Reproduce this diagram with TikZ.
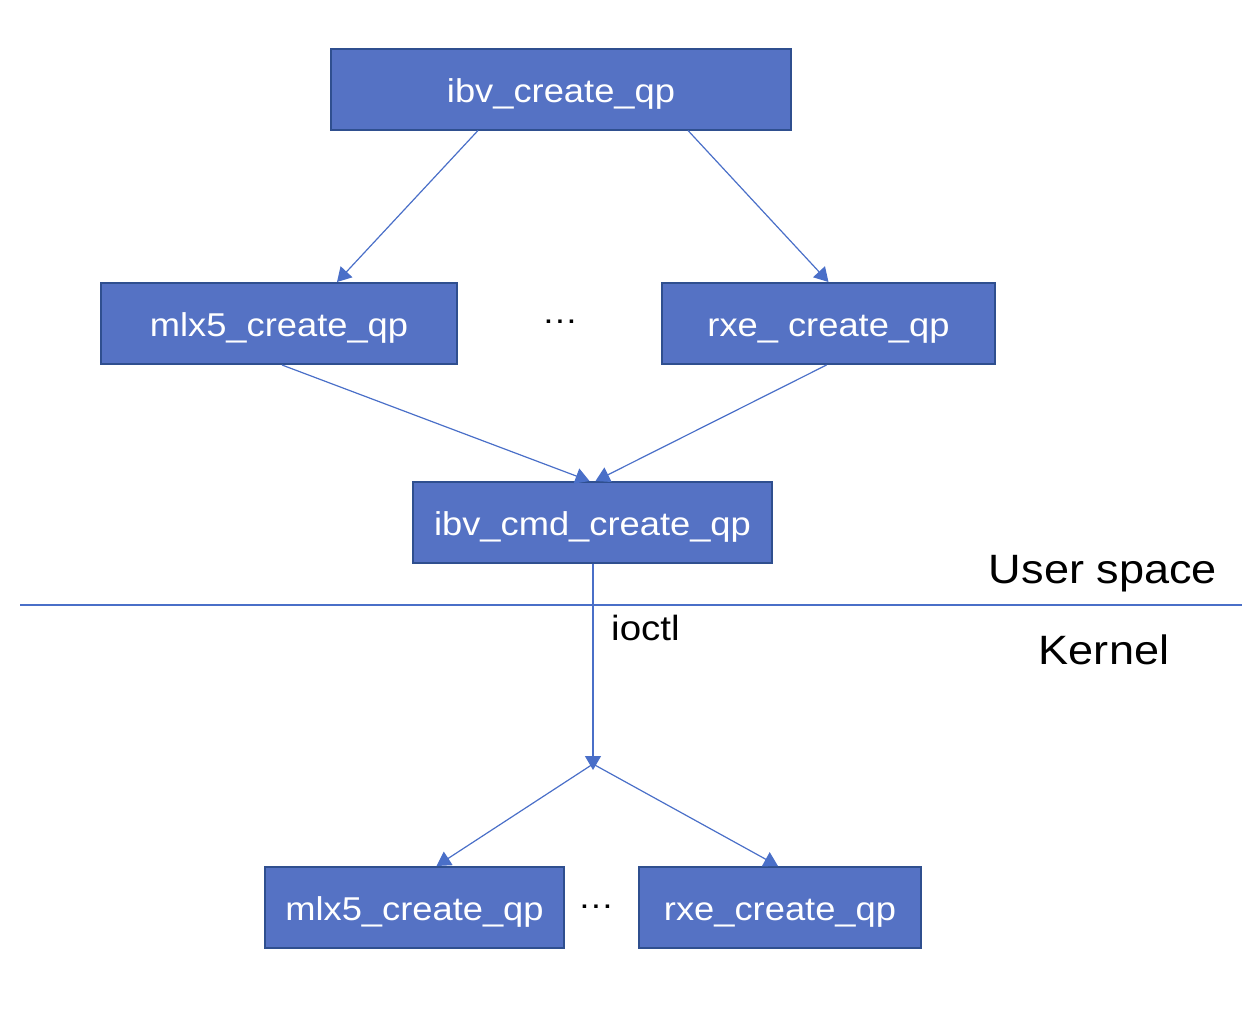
\documentclass[tikz,border=0pt]{standalone}
\usepackage{fontspec}
\setmainfont[FakeStretch=1.1]{Liberation Sans}
\usetikzlibrary{arrows.meta}
\definecolor{boxfill}{HTML}{5572C4}
\definecolor{boxline}{HTML}{2F4F8F}
\definecolor{linec}{HTML}{4A6FC8}
\tikzset{
  box/.style={draw=boxline, line width=2pt, fill=boxfill, text=white, inner sep=0pt,
    minimum height=81pt, text height=29pt, text depth=3pt, font=\fontsize{33}{40}\selectfont},
  arr/.style={draw=linec, line width=1.2pt, -{Triangle[width=16pt,length=14pt]}},
  conn/.style={draw=linec, line width=1.2pt},
  lbl/.style={inner sep=0pt, text=black},
}
\begin{document}
\begin{tikzpicture}[x=1pt,y=-1pt]
\useasboundingbox (0,0) rectangle (1255,1034);
\node[box, minimum width=460pt] (top) at (561,89) {ibv\_create\_qp};
\node[box, minimum width=356pt] (m1) at (279,323.5) {mlx5\_create\_qp};
\node[box, minimum width=333pt] (r1) at (828.5,323.5) {rxe\_ create\_qp};
\node[lbl, font=\fontsize{33}{40}\selectfont] (d1) at (560,322) {…};
\node[box, minimum width=359pt] (cmd) at (592.5,522.5) {ibv\_cmd\_create\_qp};
\node[box, minimum width=299pt] (m2) at (414.5,907.5) {mlx5\_create\_qp};
\node[box, minimum width=282pt] (r2) at (780,907.5) {rxe\_create\_qp};
\node[lbl, font=\fontsize{33}{40}\selectfont] (d2) at (596,907) {…};
\node[lbl, font=\fontsize{41}{48}\selectfont] (us) at (1103,574) {User space};
\node[lbl, font=\fontsize{41}{48}\selectfont] (kn) at (1104,650) {Kernel};
\node[lbl, anchor=west, font=\fontsize{35}{42}\selectfont] (io) at (611,628) {ioctl};
\coordinate (hl1) at (20,605);
\coordinate (hl2) at (1242,605);
\coordinate (jt) at (593,770);
\coordinate (j) at (593,764);
\draw[conn] (hl1) -- (hl2);
\draw[arr] ([xshift=-83pt]top.south) -- ([xshift=58pt]m1.north);
\draw[arr] ([xshift=127pt]top.south) -- (r1.north);
\draw[arr] ([xshift=3pt]m1.south) -- ([xshift=-3pt]cmd.north);
\draw[arr] ([xshift=-2pt]r1.south) -- ([xshift=3pt]cmd.north);
\draw[arr] ([xshift=0.5pt]cmd.south) -- (jt);
\draw[arr] (j) -- ([xshift=22pt]m2.north);
\draw[arr] (j) -- ([xshift=-2pt]r2.north);
\end{tikzpicture}
\end{document}
